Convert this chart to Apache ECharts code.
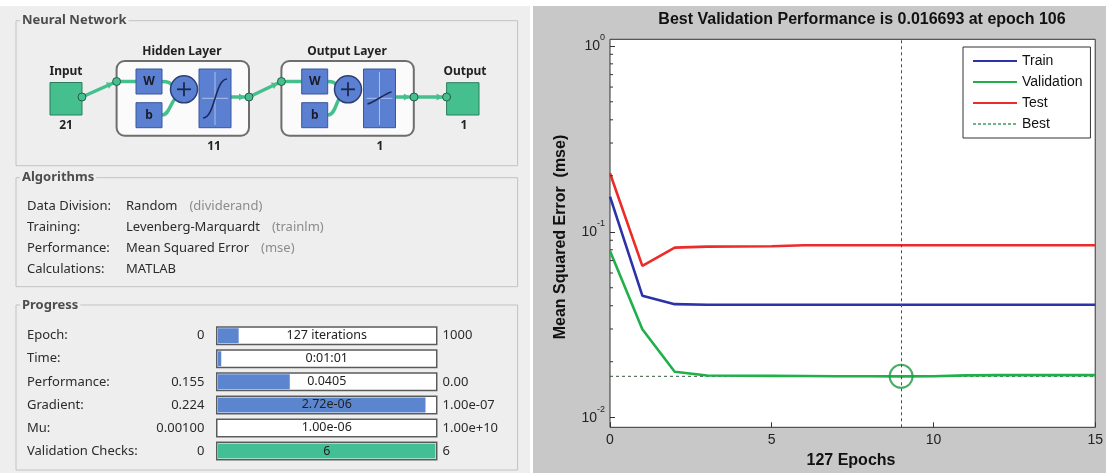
<!DOCTYPE html>
<html><head><meta charset="utf-8">
<script src="https://cdn.jsdelivr.net/npm/echarts@6/dist/echarts.min.js"></script>
<style>html,body{margin:0;padding:0;background:#fff}#c{width:1106px;height:473px}</style>
</head><body><div id="c"></div>
<script>
// ---------- data ----------
const epochs        = [0,1,2,3,4,5,6,7,8,9,10,11,12,13,14,15];
const trainMSE      = [0.1546,0.0453,0.0408,0.0405,0.0405,0.0405,0.0405,0.0405,0.0405,0.0405,0.0405,0.0405,0.0405,0.0405,0.0405,0.0405];
const validationMSE = [0.0789,0.0299,0.01768,0.01685,0.0168,0.01678,0.01676,0.01672,0.0167,0.016693,0.0167,0.0169,0.01695,0.01695,0.01695,0.01695];
const testMSE       = [0.2065,0.0655,0.0822,0.0832,0.0833,0.0835,0.0846,0.0846,0.0846,0.0846,0.0846,0.0846,0.0846,0.0846,0.0846,0.0846];
const bestEpoch = 9;
const bestValue = 0.016693;
const seriesNames = ['Train','Validation','Test','Best'];
const yMinorTicks = [0.02,0.03,0.04,0.05,0.06,0.07,0.08,0.09,0.2,0.3,0.4,0.5,0.6,0.7,0.8,0.9];
const plotTitle = 'Best Validation Performance is 0.016693 at epoch 106';
const xTitle = '127 Epochs';
const yTitle = 'Mean Squared Error  (mse)';

const layerNames = ['Input','Hidden Layer','Output Layer','Output'];
const layerSizes = ['21','11','1','1'];

const algoLabels = ['Data Division:','Training:','Performance:','Calculations:'];
const algoValues = ['Random','Levenberg-Marquardt','Mean Squared Error','MATLAB'];
const algoCodes  = ['(dividerand)','(trainlm)','(mse)',''];

const progressLabels  = ['Epoch:','Time:','Performance:','Gradient:','Mu:','Validation Checks:'];
const progressStart   = ['0','','0.155','0.224','0.00100','0'];
const progressCurrent = ['127 iterations','0:01:01','0.0405','2.72e-06','1.00e-06','6'];
const progressTarget  = ['1000','','0.00','1.00e-07','1.00e+10','6'];
const progressFill    = [0.095,0.015,0.33,0.954,0,1];

// ---------- styles / layout ----------
const UI = '"Noto Sans","Open Sans",sans-serif';
const PF = '"Liberation Sans",Arial,sans-serif';
const GREEN = '#45bf8e', GREEN_D = '#2b7d5c', BLUE = '#5b80d1', BLUE_D = '#3a569c';
const PG = {left:216, top:324.2, width:221.5, height:138.3};
const rowY = i => PG.top + (i + 0.5) * PG.height / progressLabels.length;

const G = [];
const add = e => G.push(e);
const rect = (x,y,w,h,style,r) => add({type:'rect', shape:{x,y,width:w,height:h,r:r||0}, style});
const txt = (x,y,t,font,fill,align,extra) => add(Object.assign({type:'text', style:{x,y,text:t,font,fill:fill||'#333',align:align||'left',verticalAlign:'middle'}}, extra||{}));
const line = (x1,y1,x2,y2,stroke,lw,extra) => add(Object.assign({type:'line', shape:{x1,y1,x2,y2}, style:{stroke,lineWidth:lw}}, extra||{}));
const circ = (cx,cy,r,style) => add({type:'circle', shape:{cx,cy,r}, style});
function arrow(x1,y1,x2,y2,back){
  const dx=x2-x1, dy=y2-y1, L=Math.hypot(dx,dy), ux=dx/L, uy=dy/L;
  const tx=x2-ux*back, ty=y2-uy*back, s=6;
  add({type:'polygon', shape:{points:[[tx,ty],[tx-ux*s-uy*s*0.6,ty-uy*s+ux*s*0.6],[tx-ux*s+uy*s*0.6,ty-uy*s-ux*s*0.6]]}, style:{fill:GREEN}});
}
const measure = (() => { const c=document.createElement('canvas').getContext('2d'); return (t,f)=>{c.font=f; return c.measureText(t).width;}; })();

// backgrounds
add({type:'rect', z:-10, shape:{x:0,y:6,width:530,height:467}, style:{fill:'#eeeeee'}});
add({type:'rect', z:-10, shape:{x:533,y:6,width:573,height:467}, style:{fill:'#c8c8c8'}});

// group boxes
const panels = [['Neural Network',20.7,145],['Algorithms',177.7,109],['Progress',305,165]];
panels.forEach(p => {
  rect(16,p[1],501.6,p[2],{fill:'none',stroke:'#c2c2c2',lineWidth:1});
  add({type:'text', style:{x:20,y:p[1],text:p[0],font:'bold 13px '+UI,fill:'#4d4d4d',align:'left',verticalAlign:'middle',backgroundColor:'#eeeeee',padding:[0,2]}});
});

// ---- network diagram ----
const lw = 3.5;
line(82,97,116.6,81.5,GREEN,lw); arrow(82,97,116.6,81.5,4);
line(249,97,281.4,81.5,GREEN,lw); arrow(249,97,281.4,81.5,4);
line(414,97,446.6,97,GREEN,lw); arrow(414,97,446.6,97,4);
rect(50,82.5,32,32.5,{fill:GREEN,stroke:GREEN_D,lineWidth:1});
rect(446.6,82.7,32.4,32.3,{fill:GREEN,stroke:GREEN_D,lineWidth:1});
[[116.6,199,136,184],[281.4,363.5,301.7,348]].forEach((b,k) => {
  const bx=b[0], fx=b[1], wx=b[2], pcx=b[3];
  rect(bx,61,132.4,74.7,{fill:'#fbfbfb',stroke:'#6e6e6e',lineWidth:2},8);
  line(bx,81.5,wx,81.5,GREEN,lw);
  add({type:'bezierCurve', shape:{x1:wx+26,y1:81.5,cpx1:wx+33,cpy1:81.5,cpx2:wx+34,cpy2:83,x2:pcx-12,y2:85}, style:{stroke:GREEN,lineWidth:lw,fill:'none'}});
  add({type:'bezierCurve', shape:{x1:wx+26,y1:115,cpx1:wx+33,cpy1:115,cpx2:wx+34,cpy2:104,x2:pcx-9,y2:99}, style:{stroke:GREEN,lineWidth:lw,fill:'none'}});
  line(fx+32,97,bx+132.4,97,GREEN,lw); arrow(fx+32,97,bx+132.4,97,4);
  rect(wx,69,26,25,{fill:BLUE,stroke:BLUE_D,lineWidth:1});
  rect(wx,102.7,26,25,{fill:BLUE,stroke:BLUE_D,lineWidth:1});
  txt(wx+13,81.5,'W','bold 12px '+UI,'#1a1a2a','center');
  txt(wx+13,115.2,'b','bold 12px '+UI,'#1a1a2a','center');
  circ(pcx,89.3,13.5,{fill:BLUE,stroke:'#2e3f78',lineWidth:1.5});
  line(pcx-7,89.3,pcx+7,89.3,'#1c2650',1.8); line(pcx,82.3,pcx,96.3,'#1c2650',1.8);
  rect(fx,69,32,58.7,{fill:BLUE,stroke:BLUE_D,lineWidth:1});
  line(fx+16,72,fx+16,125,'rgba(255,255,255,0.5)',1);
  line(fx+3,98.3,fx+29,98.3,'rgba(255,255,255,0.5)',1);
  if (k===0) add({type:'bezierCurve', shape:{x1:fx+4,y1:118,cpx1:fx+16,cpy1:118,cpx2:fx+16,cpy2:79,x2:fx+28,y2:79}, style:{stroke:'#1b2a5c',lineWidth:1.6,fill:'none'}});
  else add({type:'bezierCurve', shape:{x1:fx+4,y1:104,cpx1:fx+10,cpy1:103,cpx2:fx+22,cpy2:93,x2:fx+28,y2:92}, style:{stroke:'#1b2a5c',lineWidth:1.6,fill:'none'}});
});
[[82,97],[116.6,81.5],[249,97],[281.4,81.5],[414,97],[446.6,97]].forEach(p => circ(p[0],p[1],4,{fill:GREEN,stroke:'#25604a',lineWidth:1}));
const LF = 'bold 12px '+UI;
txt(66,72,layerNames[0],LF,'#222','center');
txt(182,52,layerNames[1],LF,'#222','center');
txt(347,52,layerNames[2],LF,'#222','center');
txt(465,72,layerNames[3],LF,'#222','center');
txt(66,126,layerSizes[0],LF,'#222','center');
txt(214,147,layerSizes[1],LF,'#222','center');
txt(380,147,layerSizes[2],LF,'#222','center');
txt(464,126,layerSizes[3],LF,'#222','center');

// ---- algorithms ----
const AF = '13px '+UI;
algoLabels.forEach((l,i) => {
  const y = 206.7 + i*20.9;
  txt(27,y,l,AF,'#2b2b2b');
  txt(126,y,algoValues[i],AF,'#2b2b2b');
  if (algoCodes[i]) txt(126 + measure(algoValues[i],AF) + 12, y, algoCodes[i], AF, '#8c8c8c');
});

// ---- progress texts ----
progressLabels.forEach((l,i) => {
  const y = rowY(i);
  txt(27,y,l,AF,'#2b2b2b');
  if (progressStart[i]) txt(204.4,y,progressStart[i],AF,'#2b2b2b','right');
  if (progressTarget[i]) txt(442.6,y,progressTarget[i],AF,'#2b2b2b','left');
});

// ---- plot texts ----
txt(862,20,plotTitle,'bold 16px '+PF,'#111','center');
txt(851,461,xTitle,'bold 16px '+PF,'#111','center');
add({type:'text', x:561, y:237, rotation:Math.PI/2, style:{x:0,y:0,text:yTitle,font:'bold 16px '+PF,fill:'#111',align:'center',verticalAlign:'middle'}});

const chart = echarts.init(document.getElementById('c'));
const pairs = arr => epochs.map((e,i) => [e, arr[i]]);
const lineS = (name, arr, color) => ({type:'line', name, data:pairs(arr), showSymbol:false, smooth:false, xAxisIndex:0, yAxisIndex:0, lineStyle:{color, width:2.6}, itemStyle:{color}, z:3});

chart.setOption({
  animation:false,
  backgroundColor:'#ffffff',
  graphic:{elements:G},
  legend:{data:seriesNames.map((n,i) => i === 3 ? {name:n, lineStyle:{color:'#3f9a62', width:1.5, type:[3,2]}} : {name:n}),
    orient:'vertical', left:963, top:47, padding:[7,8,7,9], itemGap:7, itemWidth:44, itemHeight:14,
    itemStyle:{opacity:0},
    backgroundColor:'#fff', borderColor:'#333', borderWidth:1, textStyle:{fontFamily:PF, fontSize:14, color:'#111'}},
  grid:[
    {left:610, top:39.3, width:490, height:388, show:true, backgroundColor:'#fff', borderColor:'#333', borderWidth:1},
    {left:PG.left, top:PG.top, width:PG.width, height:PG.height},
    {left:PG.left+2, top:PG.top, width:PG.width-4, height:PG.height}
  ],
  xAxis:[
    {type:'value', gridIndex:0, min:0, max:15, interval:5, axisLine:{show:false},
     axisTick:{show:true, inside:true, length:5, lineStyle:{color:'#333'}}, splitLine:{show:false},
     axisLabel:{fontFamily:PF, fontSize:14, color:'#222', margin:6}},
    {type:'value', gridIndex:1, min:0, max:1, show:false},
    {type:'value', gridIndex:2, min:0, max:1, show:false}
  ],
  yAxis:[
    {type:'log', logBase:10, gridIndex:0, min:0.00888, max:1.084, axisLine:{show:false}, splitLine:{show:false},
     axisTick:{show:true, inside:true, length:5, lineStyle:{color:'#333'}},
     axisLabel:{margin:5, showMinLabel:false, showMaxLabel:false,
       formatter: v => { const l = Math.log10(v), e = Math.round(l); return Math.abs(l-e) > 1e-6 ? '' : '{b|10}{s|' + e + '}'; },
       rich:{b:{fontFamily:PF, fontSize:14, color:'#222', lineHeight:26, verticalAlign:'middle'},
             s:{fontFamily:PF, fontSize:9, color:'#222', lineHeight:10, verticalAlign:'top'}}}},
    {type:'category', gridIndex:1, data:progressLabels, inverse:true, show:false},
    {type:'category', gridIndex:2, data:progressLabels, inverse:true, show:false}
  ],
  series:[
    lineS(seriesNames[0], trainMSE, '#2c33a6'),
    lineS(seriesNames[1], validationMSE, '#1fb04a'),
    lineS(seriesNames[2], testMSE, '#ee2b2b'),
    {type:'line', name:seriesNames[3], data:[[epochs[0],bestValue],[epochs[epochs.length-1],bestValue]], showSymbol:false, xAxisIndex:0, yAxisIndex:0,
     lineStyle:{color:'#35573f', width:1, type:[3,3]}, itemStyle:{color:'#35573f'}, z:2,
     markLine:{silent:true, symbol:'none', label:{show:false}, lineStyle:{color:'#1f6b3b', width:1, type:[3,3]}, data:[{xAxis:bestEpoch}]}},
    {type:'scatter', name:'bestPoint', data:[[bestEpoch,bestValue]], xAxisIndex:0, yAxisIndex:0, symbol:'circle', symbolSize:23,
     itemStyle:{color:'rgba(0,0,0,0)', borderColor:'#1c9a3e', borderWidth:2}, z:4, silent:true},
    {type:'custom', name:'minorTicks', xAxisIndex:0, yAxisIndex:0, silent:true, z:5, clip:false,
     data: yMinorTicks.map(v => [0, v]),
     renderItem:(p, api) => { const c = api.coord([0, api.value(1)]); return {type:'line', shape:{x1:c[0], y1:c[1], x2:c[0]+3, y2:c[1]}, style:{stroke:'#333', lineWidth:1}}; }},
    // progress bars
    {type:'bar', name:'track', xAxisIndex:1, yAxisIndex:1, data:progressLabels.map(() => 1), barWidth:19, silent:true, z:1,
     itemStyle:{color:'#ffffff'}},
    {type:'bar', name:'fill', xAxisIndex:2, yAxisIndex:2, data:progressFill, barWidth:15, silent:true, z:2,
     itemStyle:{color: p => p.dataIndex === progressLabels.length-1 ? '#43bf95' : '#5b86cf'}},
    {type:'bar', name:'frame', xAxisIndex:1, yAxisIndex:1, data:progressLabels.map(() => 1), barWidth:19, barGap:'-100%', silent:true, z:3,
     itemStyle:{color:'rgba(0,0,0,0)', borderColor:'#5a5a5a', borderWidth:1.5},
     label:{show:true, position:'inside', formatter: p => progressCurrent[p.dataIndex], fontFamily:UI, fontSize:12.5, color:'#222'}}
  ]
});
</script></body></html>
